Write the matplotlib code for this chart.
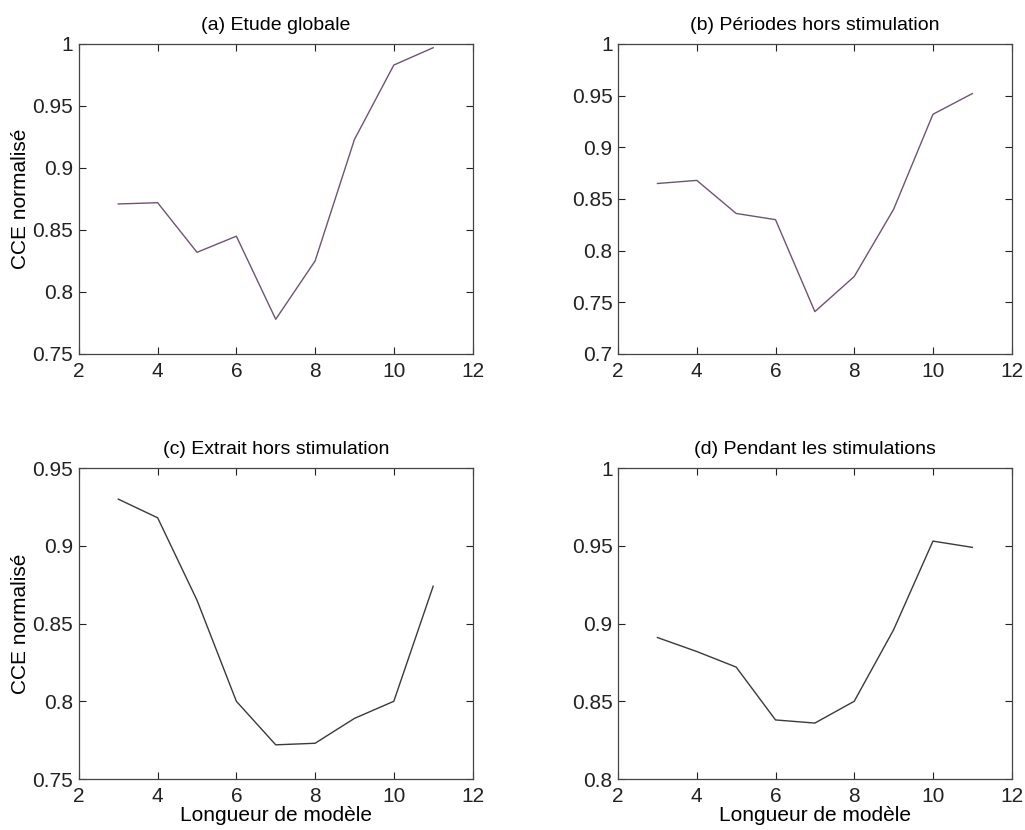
import matplotlib
matplotlib.use('Agg')
import matplotlib.pyplot as plt

# Model lengths (x axis, shared by all panels)
lengths = [3, 4, 5, 6, 7, 8, 9, 10, 11]

# Normalised CCE per panel
cce_global = [0.871, 0.872, 0.832, 0.845, 0.778, 0.825, 0.923, 0.983, 0.997]
cce_periods_off = [0.865, 0.868, 0.836, 0.830, 0.741, 0.775, 0.840, 0.932, 0.952]
cce_extract_off = [0.930, 0.918, 0.865, 0.800, 0.772, 0.773, 0.789, 0.800, 0.874]
cce_during = [0.891, 0.882, 0.872, 0.838, 0.836, 0.850, 0.896, 0.953, 0.949]

titles = ['(a) Etude globale', '(b) Périodes hors stimulation',
          '(c) Extrait hors stimulation', '(d) Pendant les stimulations']
ylims = [(0.75, 1.0), (0.7, 1.0), (0.75, 0.95), (0.8, 1.0)]
yticks = [[0.75, 0.8, 0.85, 0.9, 0.95, 1],
          [0.7, 0.75, 0.8, 0.85, 0.9, 0.95, 1],
          [0.75, 0.8, 0.85, 0.9, 0.95],
          [0.8, 0.85, 0.9, 0.95, 1]]
line_colors = ['#6e5470', '#6e5470', '#3a3a3a', '#3a3a3a']

plt.rcParams['font.family'] = ['Liberation Sans', 'DejaVu Sans']

fig = plt.figure(figsize=(10.25, 8.3), dpi=100)

positions = [[0.077, 0.5735, 0.384, 0.3735],
             [0.603, 0.5735, 0.384, 0.3735],
             [0.077, 0.0614, 0.384, 0.3747],
             [0.603, 0.0614, 0.384, 0.3747]]
series = [cce_global, cce_periods_off, cce_extract_off, cce_during]

for i in range(4):
    ax = fig.add_axes(positions[i])
    ax.plot(lengths, series[i], color=line_colors[i], linewidth=1.0)
    ax.set_xlim(2, 12)
    ax.set_ylim(*ylims[i])
    ax.set_xticks([2, 4, 6, 8, 10, 12])
    ax.set_yticks(yticks[i])
    ax.set_yticklabels([f'{v:g}' for v in yticks[i]])
    ax.tick_params(direction='in', length=5, width=0.8, labelsize=15,
                   top=True, right=True, colors='#222222')
    ax.tick_params(axis='x', pad=6)
    ax.tick_params(axis='y', pad=4)
    for s in ax.spines.values():
        s.set_color('#444444')
        s.set_linewidth(0.9)
    ax.set_title(titles[i], fontsize=14, pad=10)
    if i in (0, 2):
        ax.set_ylabel('CCE normalisé', fontsize=15)
        ax.yaxis.set_label_coords(-0.125, 0.5)
    if i in (2, 3):
        ax.set_xlabel('Longueur de modèle', fontsize=15, labelpad=0)

fig.savefig('out.png', dpi=100)
